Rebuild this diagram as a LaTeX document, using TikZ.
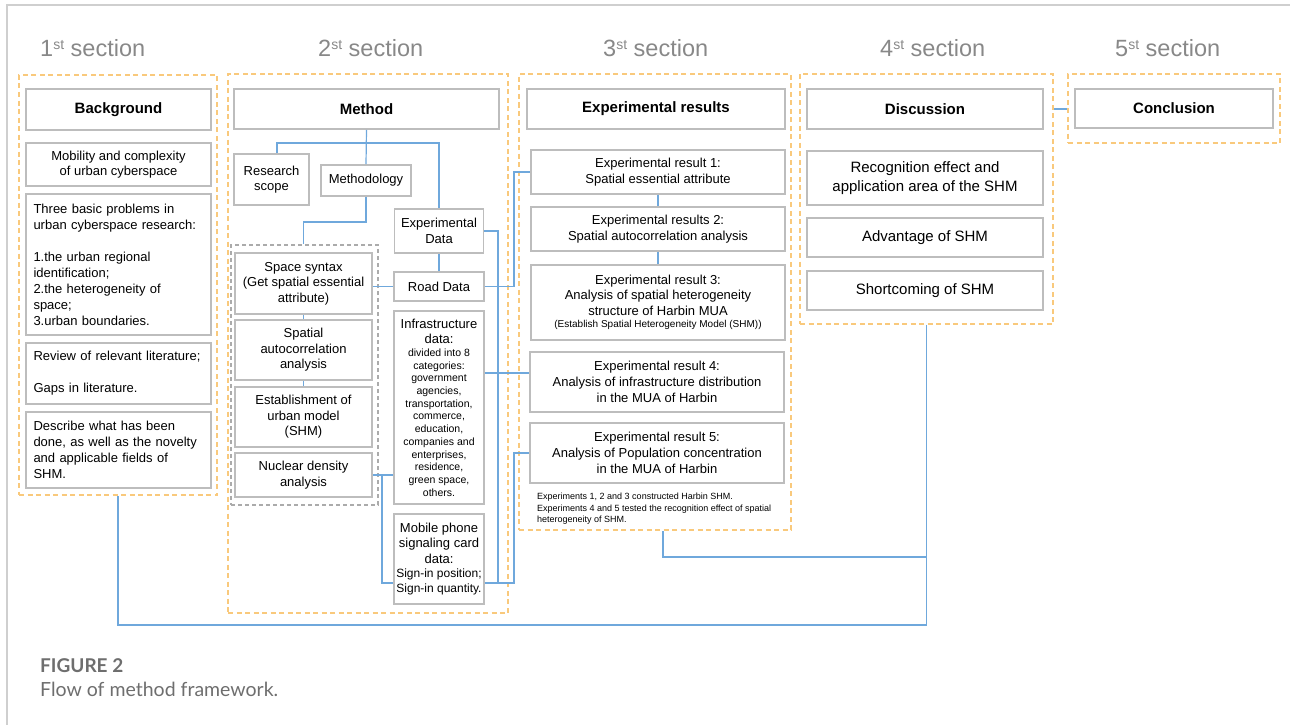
\documentclass[tikz,border=0pt]{standalone}
\usepackage{fontspec}
\setmainfont{Liberation Sans}
\newfontfamily\capfont{Lato}
\usetikzlibrary{calc}
\definecolor{bgray}{HTML}{BDBDBD}
\definecolor{org}{HTML}{F9C97C}
\definecolor{lnk}{HTML}{6FA8DC}
\definecolor{tgray}{HTML}{888888}
\definecolor{dgray}{HTML}{ABABAB}
\definecolor{frm}{HTML}{CFCFCF}
\definecolor{capgray}{HTML}{6E6E6E}
\newcommand\fs[2]{\fontsize{#1}{#2}\selectfont}
\newcommand\sectitle[1]{#1\raisebox{8pt}{\fs{14}{14}st} section}
\begin{document}
\begin{tikzpicture}[x=1pt,y=-1pt,
  box/.style={draw=bgray,line width=1.6pt,fill=white,inner sep=0pt,align=flush center,font=\fs{13}{15.5}},
  hdr/.style={box,font=\bfseries\fs{15}{18}},
  sect/.style={draw=org,line width=1.6pt,dash pattern=on 5pt off 3.5pt,inner sep=0pt},
  gdash/.style={draw=dgray,line width=1.2pt,dash pattern=on 4pt off 3pt,inner sep=0pt},
  link/.style={draw=lnk,line width=1.2pt},
  ttl/.style={anchor=base west,text=tgray,font=\fs{23.5}{28},inner sep=0pt},
]
\useasboundingbox (0,0) rectangle (1290,725);
\draw[frm,line width=1.5pt] (1290,5) -- (7,5) -- (7,725);

% section titles
\node[ttl] (t1) at (40,57) {\sectitle{1}};
\node[ttl] (t2) at (318,57) {\sectitle{2}};
\node[ttl] (t3) at (603,57) {\sectitle{3}};
\node[ttl] (t4) at (880,57) {\sectitle{4}};
\node[ttl] (t5) at (1115,57) {\sectitle{5}};

% dashed section frames
\node[sect,minimum width=198pt,minimum height=420pt] (sec1) at (118,285) {};
\node[sect,minimum width=280pt,minimum height=539pt] (sec2) at (368,343.5) {};
\node[sect,minimum width=272pt,minimum height=456pt] (sec3) at (655,302) {};
\node[sect,minimum width=253pt,minimum height=250pt] (sec4) at (926.5,199) {};
\node[sect,minimum width=212pt,minimum height=69pt] (sec5) at (1174,108.5) {};
\node[gdash,minimum width=147pt,minimum height=260pt] (gd) at (304.5,375) {};

% section 1
\node[hdr,minimum width=185pt,minimum height=41pt] (bg) at (118.5,109.5) {Background};
\node[box,minimum width=185pt,minimum height=43pt,text width=175pt] (mob) at (118.5,164.5) {Mobility and complexity\\of urban cyberspace};
\node[box,minimum width=185pt,minimum height=141pt,text width=170pt,align=left,font=\fs{13}{16}] (three) at (118.5,264.5) {Three basic problems in\\urban cyberspace research:\\[16pt]1.the urban regional\\identification;\\2.the heterogeneity of\\space;\\3.urban boundaries.};
\node[box,minimum width=185pt,minimum height=61pt,text width=170pt,align=left,font=\fs{13}{16}] (rev) at (118.5,373.5) {Review of relevant literature;\\[16pt]Gaps in literature.};
\node[box,minimum width=185pt,minimum height=76pt,text width=170pt,align=left,font=\fs{13}{16}] (desc) at (118.5,450) {Describe what has been\\done, as well as the novelty\\and applicable fields of\\SHM.};

% section 2
\node[hdr,minimum width=265pt,minimum height=40pt] (method) at (366.5,109) {Method};
\node[box,minimum width=75pt,minimum height=51pt,text width=71pt] (scope) at (271.5,179.5) {Research\\scope};
\node[box,minimum width=90pt,minimum height=31pt,text width=86pt] (methodology) at (366,180.5) {Methodology};
\node[box,minimum width=89pt,minimum height=44pt,text width=85pt] (expdata) at (439,231) {Experimental\\Data};
\node[box,minimum width=137pt,minimum height=61pt,text width=133pt] (syntax) at (303.5,283.5) {Space syntax\\(Get spatial essential\\attribute)};
\node[box,minimum width=137pt,minimum height=60pt,text width=133pt] (spatial) at (303.5,350) {Spatial\\autocorrelation\\analysis};
\node[box,minimum width=137pt,minimum height=60pt,text width=133pt] (establish) at (303.5,417) {Establishment of\\urban model\\(SHM)};
\node[box,minimum width=137pt,minimum height=44pt,text width=133pt] (nuclear) at (303.5,475) {Nuclear density\\analysis};
\node[box,minimum width=90pt,minimum height=29pt,text width=88pt] (road) at (439,286.5) {Road Data};
\node[box,minimum width=90pt,minimum height=193pt,text width=88pt,font=\fs{13}{15.5}] (infra) at (439,407.5) {Infrastructure\\data:\par\fs{10.5}{12.7}divided into 8\\categories:\\government\\agencies,\\transportation,\\commerce,\\education,\\companies and\\enterprises,\\residence,\\green space,\\others.\par};
\node[box,minimum width=90pt,minimum height=90pt,text width=88pt,font=\fs{13}{15.5}] (mobile) at (439,559) {Mobile phone\\signaling card\\data:\par\fs{12}{14.5}Sign-in position;\\Sign-in quantity.\par};

% section 3
\node[hdr,minimum width=258pt,minimum height=40pt] (expres) at (656,109) {Experimental results};
\node[box,minimum width=254pt,minimum height=44pt,text width=248pt] (r1) at (658,172) {Experimental result 1:\\Spatial essential attribute};
\node[box,minimum width=254pt,minimum height=44pt,text width=248pt] (r2) at (658,229) {Experimental results 2:\\Spatial autocorrelation analysis};
\node[box,minimum width=254pt,minimum height=75pt,text width=248pt] (r3) at (658,302.5) {Experimental result 3:\\Analysis of spatial heterogeneity\\structure of Harbin MUA\par\fs{10}{12.5}(Establish Spatial Heterogeneity Model (SHM))\par};
\node[box,minimum width=254pt,minimum height=60pt,text width=248pt,font=\fs{13}{16}] (r4) at (657,382) {Experimental result 4:\\Analysis of infrastructure distribution\\in the MUA of Harbin};
\node[box,minimum width=254pt,minimum height=60pt,text width=248pt,font=\fs{13}{16}] (r5) at (657,453) {Experimental result 5:\\Analysis of Population concentration\\in the MUA of Harbin};
\node[anchor=north west,inner sep=0pt,align=left,font=\fs{9}{11.5}] (note) at (537,493) {Experiments 1, 2 and 3 constructed Harbin SHM.\\Experiments 4 and 5 tested the recognition effect of spatial\\heterogeneity of SHM.};

% section 4
\node[hdr,minimum width=236pt,minimum height=40pt] (disc) at (925,109) {Discussion};
\node[box,minimum width=236pt,minimum height=54pt,text width=230pt,font=\fs{15}{18.5}] (recog) at (925,178) {Recognition effect and\\application area of the SHM};
\node[box,minimum width=236pt,minimum height=39pt,text width=230pt,font=\fs{15}{18}] (adv) at (925,237.5) {Advantage of SHM};
\node[box,minimum width=236pt,minimum height=39pt,text width=230pt,font=\fs{15}{18}] (short) at (925,290.5) {Shortcoming of SHM};

% section 5
\node[hdr,minimum width=198pt,minimum height=39pt] (concl) at (1174,108.5) {Conclusion};

% connectors
\coordinate (b1) at (382,0);
\coordinate (b2) at (498,0);
\coordinate (b3) at (514,0);
\coordinate (mpe) at ([yshift=-24pt]mobile.east);
\draw[link] (method.south) -- (methodology.north);
\draw[link] ([xshift=5.5pt]scope.north) |- (expdata.north |- 0,143) -- (expdata.north);
\draw[link] (methodology.south) |- (syntax.north |- 0,222) -- (syntax.north |- gd.north);
\draw[link] (expdata.south) -- (road.north);
\draw[link] (syntax.east |- road.west) -- (road.west);
\draw[link] (syntax.south) -- (spatial.north);
\draw[link] (spatial.south) -- (establish.north);
\draw[link] (road.east) -| (b3 |- r1.west) -- (r1.west);
\draw[link] (expdata.east) -| (b2 |- mpe);
\draw[link] (mpe) -| (b3 |- r5.west) -- (r5.west);
\draw[link] (infra.east |- 0,373) -- (r4.west |- 0,373);
\draw[link] (nuclear.east) -- (infra.west |- nuclear.east);
\draw[link] (b1 |- nuclear.east) |- (mobile.west |- mpe);
\draw[link] (r1.south) -- (r2.north);
\draw[link] (r2.south) -- (r3.north);
\draw[link] (sec4.east |- disc.east) -- (sec5.west |- disc.east);
\draw[link] (sec3.south -| 663,0) |- (sec4.south |- 0,557);
\draw[link] (sec4.south) -- (sec4.south |- 0,625) -| (sec1.south);

% caption
\node[anchor=base west,inner sep=0pt,text=capgray,font=\capfont\bfseries\fs{19}{21}] (fig) at (40,672) {FIGURE 2};
\node[anchor=base west,inner sep=0pt,text=capgray,font=\capfont\fs{19.5}{21}] (cap) at (40,696) {Flow of method framework.};
\end{tikzpicture}
\end{document}
